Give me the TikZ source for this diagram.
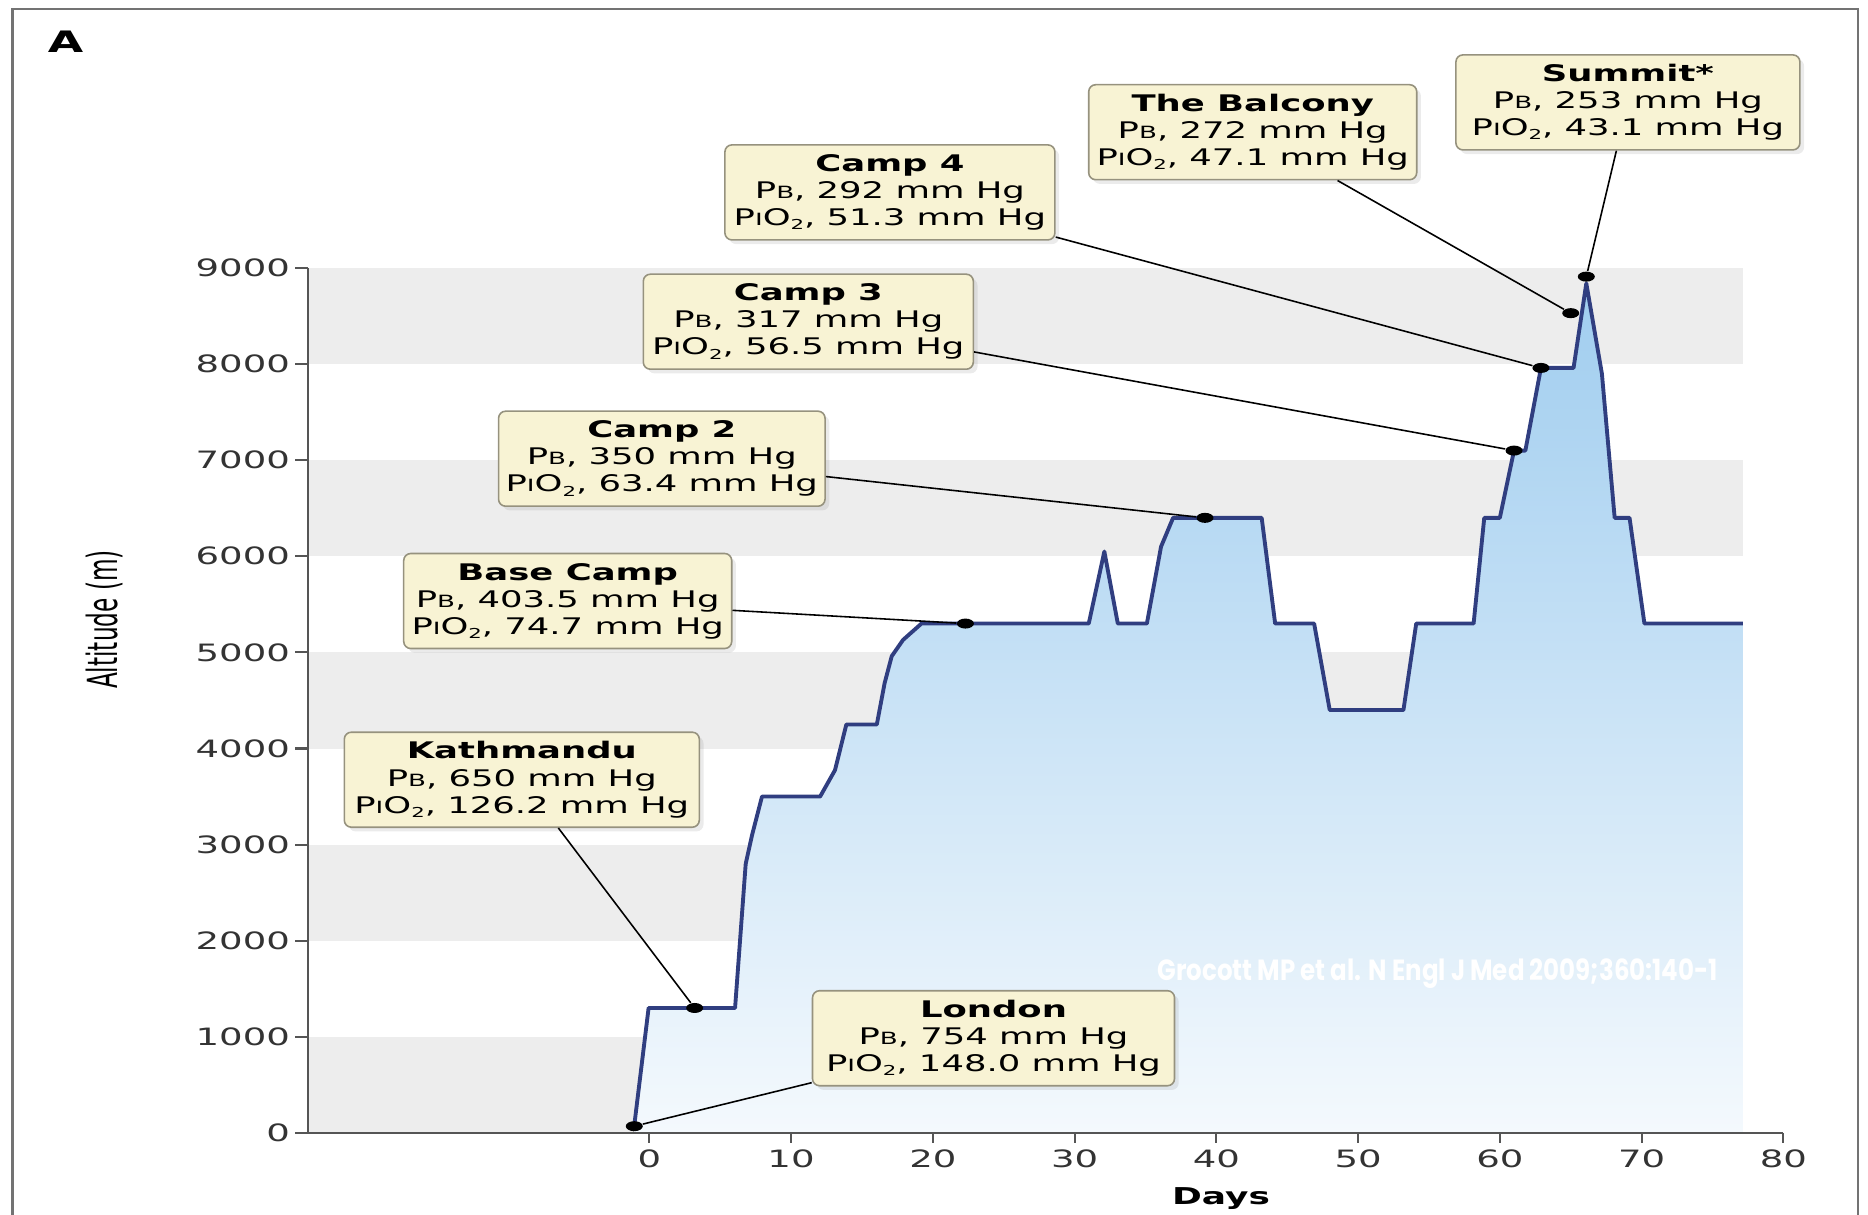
\documentclass[tikz,border=0pt]{standalone}
\usepackage{fontspec}
\usetikzlibrary{shapes.geometric,shadows}
\newfontfamily\boxfont[FakeStretch=1.55]{DejaVu Sans}
\newfontfamily\sidefont[FakeStretch=0.56]{DejaVu Sans}
\newfontfamily\markfont[FakeStretch=0.84]{Poppins}
\definecolor{bandgrey}{RGB}{237,237,237}
\definecolor{boxfill}{RGB}{248,243,212}
\definecolor{boxline}{RGB}{150,146,126}
\definecolor{trail}{RGB}{48,62,128}
\definecolor{icetop}{RGB}{160,205,239}
\definecolor{icebot}{RGB}{244,249,253}
\definecolor{axisgrey}{RGB}{85,85,85}
\newcommand\smc[1]{{\fontsize{4.8}{5}\selectfont #1}}
\newcommand\subtwo{\raisebox{-1.2pt}{\fontsize{3.9}{4}\selectfont 2}}
\newcommand\pb[1]{P\smc{B}, #1 mm Hg}
\newcommand\pio[1]{P\smc{I}O\subtwo, #1 mm Hg}
\tikzset{
  campbox/.style={draw=boxline, line width=0.45pt, fill=boxfill, rounded corners=2pt,
    align=center, inner xsep=2pt, inner ysep=1pt, minimum height=0.95cm,
    font=\boxfont\fontsize{6.5}{7.7}\selectfont,
    drop shadow={opacity=0.16, shadow xshift=1.2pt, shadow yshift=-1.2pt}},
  campdot/.style={ellipse, fill=black, inner sep=0pt, minimum width=0.17cm, minimum height=0.1cm},
  leader/.style={line width=0.45pt, black},
  ticklab/.style={font=\boxfont\fontsize{6.8}{7}\selectfont, text=black!80, inner sep=0pt},
  axisline/.style={axisgrey, line width=0.6pt}
}

\begin{document}
\begin{tikzpicture}
\useasboundingbox (0,0) rectangle (18.68,12.14);
\draw[black!55, line width=0.8pt] (0.125,-0.2) -- (0.125,12.05) -- (18.58,12.05) -- (18.58,-0.2);

\node[font=\boxfont\bfseries\fontsize{8.4}{9}\selectfont] (panel) at (0.655,11.72) {A};
\node[rotate=90, font=\sidefont\fontsize{11.8}{12}\selectfont] (ylab) at (1.048,5.945) {Altitude (m)};
\node[font=\boxfont\bfseries\fontsize{6.6}{7}\selectfont] (xlab) at (12.21,0.15) {Days};

\begin{scope}[shift={(6.493,0.811)}, x=0.14176cm, y=0.000961cm]
  \foreach \b in {0,2000,...,8000}
    \fill[bandgrey] (-24.05,\b) rectangle (77.15,\b+1000);

  \fill[top color=icetop, bottom color=icebot]
    (-1.1,0) -- (-1.1,30) -- (-0.05,1300) -- (6.05,1300) -- (6.8,2800) -- (7.25,3100)
    -- (7.95,3500) -- (12.05,3500) -- (13.1,3775) -- (13.9,4250) -- (16.05,4250)
    -- (16.6,4680) -- (17.1,4960) -- (17.9,5130) -- (19.2,5300) -- (31.0,5300)
    -- (32.1,6050) -- (33.05,5300) -- (35.1,5300) -- (36.1,6100) -- (36.95,6400)
    -- (43.2,6400) -- (44.15,5300) -- (46.9,5300) -- (48.0,4400) -- (53.2,4400)
    -- (54.1,5300) -- (58.15,5300) -- (58.9,6400) -- (60.0,6400) -- (61.0,7100)
    -- (61.8,7100) -- (62.9,7960) -- (65.2,7960) -- (66.1,8840) -- (67.2,7900)
    -- (68.1,6400) -- (69.15,6400) -- (70.2,5300) -- (77.15,5300) -- (77.15,0) -- cycle;

  \draw[trail, line width=1.1pt, line join=round]
    (-1.1,30) -- (-0.05,1300) -- (6.05,1300) -- (6.8,2800) -- (7.25,3100)
    -- (7.95,3500) -- (12.05,3500) -- (13.1,3775) -- (13.9,4250) -- (16.05,4250)
    -- (16.6,4680) -- (17.1,4960) -- (17.9,5130) -- (19.2,5300) -- (31.0,5300)
    -- (32.1,6050) -- (33.05,5300) -- (35.1,5300) -- (36.1,6100) -- (36.95,6400)
    -- (43.2,6400) -- (44.15,5300) -- (46.9,5300) -- (48.0,4400) -- (53.2,4400)
    -- (54.1,5300) -- (58.15,5300) -- (58.9,6400) -- (60.0,6400) -- (61.0,7100)
    -- (61.8,7100) -- (62.9,7960) -- (65.2,7960) -- (66.1,8840) -- (67.2,7900)
    -- (68.1,6400) -- (69.15,6400) -- (70.2,5300) -- (77.15,5300);

  \draw[axisline] (-24.05,9000) -- (-24.05,0) -- (80,0);
  \foreach \a in {0,1000,...,9000} {
    \draw[axisline] (-24.05,\a) -- (-25,\a);
    \node[ticklab, anchor=east] (yt\a) at (-25.3,\a) {\a};
  }
  \foreach \d in {0,10,...,80} {
    \draw[axisline] (\d,0) -- (\d,-104);
    \node[ticklab] (xt\d) at (\d,-272) {\d};
  }

  \node[campdot] (dlon) at (-1.06,70) {};
  \node[campdot] (dktm) at (3.2,1300) {};
  \node[campdot] (dbase) at (22.3,5300) {};
  \node[campdot] (dc2) at (39.2,6400) {};
  \node[campdot] (dc3) at (61.0,7100) {};
  \node[campdot] (dc4) at (62.9,7960) {};
  \node[campdot] (dbal) at (65.0,8530) {};
  \node[campdot] (dsum) at (66.1,8910) {};
\end{scope}

\node[font=\markfont\bfseries\fontsize{8.3}{9}\selectfont, text=white, anchor=west, inner sep=0pt] (cite) at (11.567,2.4) {Grocott MP et al. N Engl J Med 2009;360:140-1};

\node[campbox, minimum width=3.44cm] (summit) at (16.279,11.116) {\textbf{Summit*}\\\pb{253}\\\pio{43.1}};
\node[campbox, minimum width=3.28cm] (balcony) at (12.527,10.818) {\textbf{The Balcony}\\\pb{272}\\\pio{47.1}};
\node[campbox, minimum width=3.30cm] (camp4) at (8.899,10.216) {\textbf{Camp 4}\\\pb{292}\\\pio{51.3}};
\node[campbox, minimum width=3.30cm] (camp3) at (8.083,8.923) {\textbf{Camp 3}\\\pb{317}\\\pio{56.5}};
\node[campbox, minimum width=3.25cm] (camp2) at (6.618,7.553) {\textbf{Camp 2}\\\pb{350}\\\pio{63.4}};
\node[campbox, minimum width=3.28cm] (base) at (5.677,6.130) {\textbf{Base Camp}\\\pb{403.5}\\\pio{74.7}};
\node[campbox, minimum width=3.55cm] (kathmandu) at (5.218,4.343) {\textbf{Kathmandu}\\\pb{650}\\\pio{126.2}};
\node[campbox, minimum width=3.62cm] (london) at (9.935,1.758) {\textbf{London}\\\pb{754}\\\pio{148.0}};

\draw[leader] (summit) -- (dsum);
\draw[leader] (balcony) -- (dbal);
\draw[leader] (camp4) -- (dc4);
\draw[leader] (camp3) -- (dc3);
\draw[leader] (camp2) -- (dc2);
\draw[leader] (base) -- (dbase);
\draw[leader] (kathmandu) -- (dktm);
\draw[leader] (london) -- (dlon);
\end{tikzpicture}
\end{document}
